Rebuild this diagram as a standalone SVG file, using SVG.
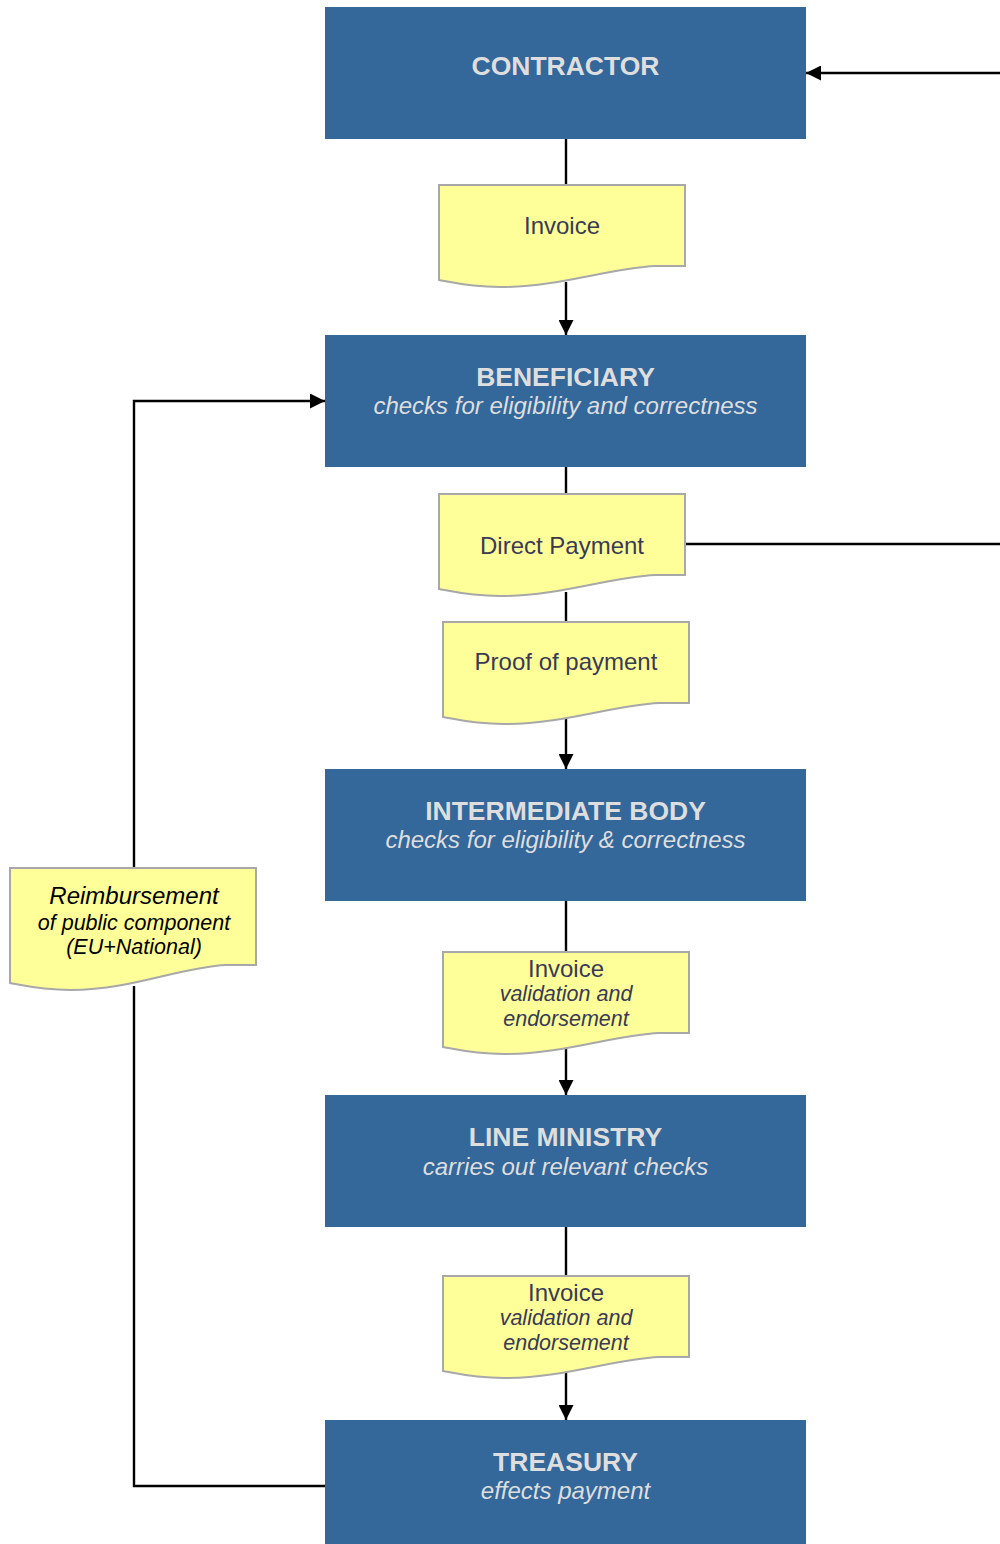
<svg xmlns="http://www.w3.org/2000/svg" width="1000" height="1544" viewBox="0 0 1000 1544">
<style>
.box{fill:#34679A;}
.doc{fill:#FFFF99;stroke:#A8A8A8;stroke-width:2;}
.t{font-family:"Liberation Sans",Arial,sans-serif;text-anchor:middle;}
.title{font-size:26.5px;font-weight:bold;fill:#DEDEDE;}
.sub{font-size:24px;font-style:italic;fill:#DEDEDE;}
.dt{font-size:24px;fill:#3A3A55;}
.di{font-size:21.5px;font-style:italic;fill:#3A3A55;}
.line{fill:none;stroke:#000;stroke-width:2.4;}
</style>
<defs>
<marker id="ah" viewBox="0 0 15 15" refX="15" refY="7.5" markerWidth="15" markerHeight="15" markerUnits="userSpaceOnUse" orient="auto">
<path d="M0,0 L15,7.5 L0,15 Z" fill="#000"/>
</marker>
</defs>
<g id="connectors">
<line class="line" x1="566" y1="139" x2="566" y2="185"/>
<line class="line" x1="566" y1="282" x2="566" y2="335" marker-end="url(#ah)"/>
<line class="line" x1="566" y1="467" x2="566" y2="494"/>
<line class="line" x1="566" y1="592" x2="566" y2="622"/>
<line class="line" x1="566" y1="718" x2="566" y2="769" marker-end="url(#ah)"/>
<line class="line" x1="566" y1="901" x2="566" y2="952"/>
<line class="line" x1="566" y1="1048" x2="566" y2="1095" marker-end="url(#ah)"/>
<line class="line" x1="566" y1="1227" x2="566" y2="1276"/>
<line class="line" x1="566" y1="1372" x2="566" y2="1420" marker-end="url(#ah)"/>
<line class="line" x1="1000" y1="73" x2="806" y2="73" marker-end="url(#ah)"/>
<line class="line" x1="685" y1="544" x2="1000" y2="544"/>
<polyline class="line" points="325,1486 134,1486 134,986"/>
<polyline class="line" points="134,868 134,401 325,401" marker-end="url(#ah)"/>
</g>
<g id="contractor">
<rect class="box" x="325" y="7" width="481" height="132"/>
<text class="t title" x="565.5" y="75">CONTRACTOR</text>
</g>
<g id="invoice1">
<path class="doc" d="M439,185 H685 V266 H655 C610,268 560,287 500,287 C470,287 450,282 439,280 Z"/>
<text class="t dt" x="562" y="233.5">Invoice</text>
</g>
<g id="beneficiary">
<rect class="box" x="325" y="335" width="481" height="132"/>
<text class="t title" x="565.5" y="386">BENEFICIARY</text>
<text class="t sub" x="565.5" y="414">checks for eligibility and correctness</text>
</g>
<g id="direct-payment">
<path class="doc" d="M439,494 H685 V575 H655 C610,577 560,596 500,596 C470,596 450,591 439,589 Z"/>
<text class="t dt" x="562" y="554">Direct Payment</text>
</g>
<g id="proof-of-payment">
<path class="doc" d="M443,622 H689 V703 H659 C614,705 564,724 504,724 C474,724 454,719 443,717 Z"/>
<text class="t dt" x="566" y="670">Proof of payment</text>
</g>
<g id="intermediate-body">
<rect class="box" x="325" y="769" width="481" height="132"/>
<text class="t title" x="565.5" y="820">INTERMEDIATE BODY</text>
<text class="t sub" x="565.5" y="848">checks for eligibility &amp; correctness</text>
</g>
<g id="reimbursement">
<path class="doc" d="M10,868 H256 V965 H226 C181,967 131,990 71,990 C41,990 21,985 10,983 Z"/>
<text class="t" x="134" y="903.5" style="font-size:24px;font-style:italic;fill:#000">Reimbursement</text>
<text class="t" x="134" y="929.5" style="font-size:21.5px;font-style:italic;fill:#000">of public component</text>
<text class="t" x="134" y="954" style="font-size:21.5px;font-style:italic;fill:#000">(EU+National)</text>
</g>
<g id="invoice-validation1">
<path class="doc" d="M443,952 H689 V1033 H659 C614,1035 564,1054 504,1054 C474,1054 454,1049 443,1047 Z"/>
<text class="t dt" x="566" y="976.5">Invoice</text>
<text class="t di" x="566" y="1001">validation and</text>
<text class="t di" x="566" y="1026">endorsement</text>
</g>
<g id="line-ministry">
<rect class="box" x="325" y="1095" width="481" height="132"/>
<text class="t title" x="565.5" y="1146">LINE MINISTRY</text>
<text class="t sub" x="565.5" y="1175">carries out relevant checks</text>
</g>
<g id="invoice-validation2">
<path class="doc" d="M443,1276 H689 V1357 H659 C614,1359 564,1378 504,1378 C474,1378 454,1373 443,1371 Z"/>
<text class="t dt" x="566" y="1300.5">Invoice</text>
<text class="t di" x="566" y="1325">validation and</text>
<text class="t di" x="566" y="1350">endorsement</text>
</g>
<g id="treasury">
<rect class="box" x="325" y="1420" width="481" height="124"/>
<text class="t title" x="565.5" y="1471">TREASURY</text>
<text class="t sub" x="565.5" y="1499">effects payment</text>
</g>
</svg>
